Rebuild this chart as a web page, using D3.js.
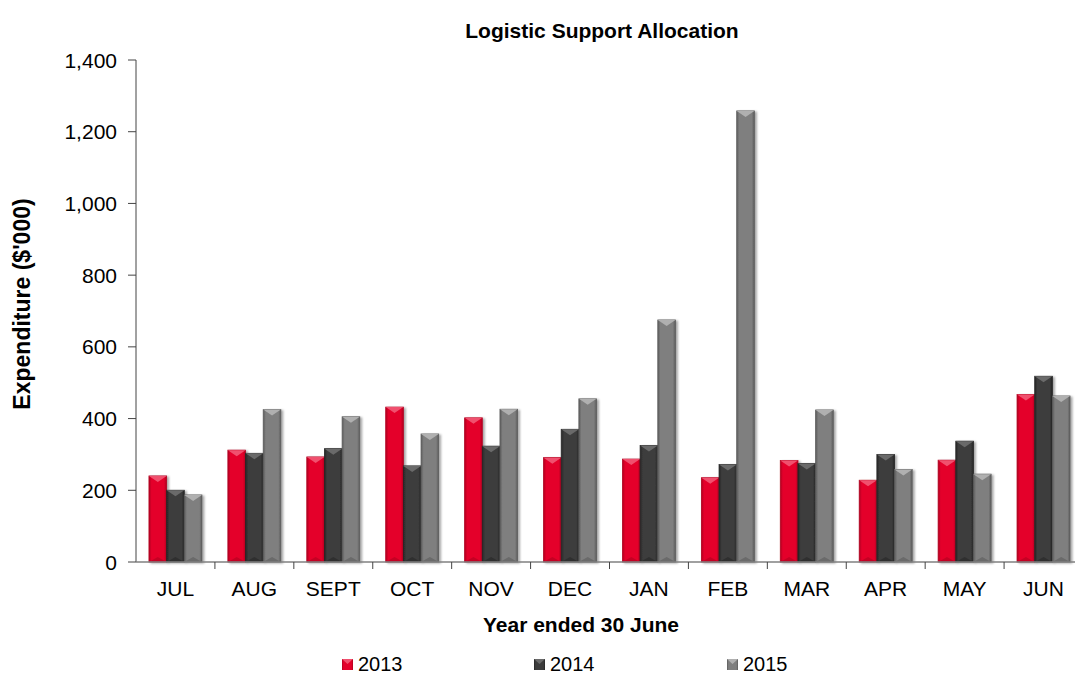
<!DOCTYPE html>
<html>
<head>
<meta charset="utf-8">
<script src="https://cdn.jsdelivr.net/npm/d3@7"></script>
<style>
  body { margin: 0; background: #fff; overflow: hidden; }
  svg { font-family: "Liberation Sans", Arial, sans-serif; display: block; }
</style>
</head>
<body>
<script>
const months = ["JUL", "AUG", "SEPT", "OCT", "NOV", "DEC", "JAN", "FEB", "MAR", "APR", "MAY", "JUN"];
const years = ["2013", "2014", "2015"];
const v2013 = [240, 312, 293, 432, 402, 291, 287, 235, 283, 228, 284, 467];
const v2014 = [200, 303, 316, 268, 323, 370, 325, 272, 275, 300, 337, 518];
const v2015 = [187, 425, 405, 357, 426, 455, 675, 1258, 424, 258, 245, 463];
const yTicks = [0, 200, 400, 600, 800, 1000, 1200, 1400];

const seriesVals = [v2013, v2014, v2015];
const baseCol = ["#e4002b", "#3c3c3c", "#7f7f7f"];
const topCol = ["#f0506e", "#6a6a6a", "#b0b0b0"];
const edgeCol = ["#b0001f", "#262626", "#5c5c5c"];

const width = 1075, height = 673;
const margin = { left: 136, right: -8, top: 60, bottom: 111 };

const svg = d3.select("body").append("svg")
    .attr("width", width)
    .attr("height", height);

const defs = svg.append("defs");
baseCol.forEach((c, i) => {
    var g = defs.append("linearGradient").attr("id", "grad" + i)
        .attr("x1", 0).attr("x2", 1).attr("y1", 0).attr("y2", 0);
    g.append("stop").attr("offset", "0%").attr("stop-color", edgeCol[i]);
    g.append("stop").attr("offset", "15%").attr("stop-color", c);
    g.append("stop").attr("offset", "85%").attr("stop-color", c);
    g.append("stop").attr("offset", "100%").attr("stop-color", edgeCol[i]);
});
var shadow = defs.append("filter").attr("id", "shadow")
    .attr("x", "-20%").attr("y", "-5%").attr("width", "160%").attr("height", "110%");
shadow.append("feDropShadow").attr("dx", 2).attr("dy", 1).attr("stdDeviation", 1.2)
    .attr("flood-color", "#000").attr("flood-opacity", 0.35);

const x = d3.scaleBand()
    .domain(months)
    .range([margin.left, width - margin.right]);

const xInner = d3.scaleBand()
    .domain(years)
    .range([0, 53])
    .padding(0);

const y = d3.scaleLinear()
    .domain([0, 1400])
    .range([height - margin.bottom, margin.top]);

// bars
const groups = svg.selectAll(".grp")
    .data(months)
    .enter().append("g")
    .attr("class", "grp")
    .attr("transform", d => "translate(" + (x(d) + (x.bandwidth() - 53) / 2) + ",0)");

years.forEach((yr, si) => {
    groups.each(function (m, mi) {
        var val = seriesVals[si][mi];
        var bx = xInner(yr), bw = xInner.bandwidth();
        var top = y(val), base = y(0);
        var g = d3.select(this);
        g.append("rect")
            .attr("x", bx).attr("y", top)
            .attr("width", bw).attr("height", base - top)
            .attr("fill", "url(#grad" + si + ")")
            .attr("stroke", edgeCol[si])
            .attr("stroke-width", 0.8)
            .attr("filter", "url(#shadow)");
        // bevel on top
        g.append("path")
            .attr("d", "M" + bx + "," + top + "L" + (bx + bw) + "," + top +
                "L" + (bx + bw / 2) + "," + (top + 6) + "Z")
            .attr("fill", topCol[si]);
        // bevel on bottom
        g.append("path")
            .attr("d", "M" + bx + "," + base + "L" + (bx + bw) + "," + base +
                "L" + (bx + bw / 2) + "," + (base - 5) + "Z")
            .attr("fill", edgeCol[si]).attr("opacity", 0.6);
    });
});

// y axis
svg.append("line")
    .attr("x1", margin.left).attr("x2", margin.left)
    .attr("y1", y(1400)).attr("y2", y(0))
    .attr("stroke", "#444").attr("stroke-width", 1);
svg.selectAll(".ytick")
    .data(yTicks)
    .enter().append("line")
    .attr("x1", margin.left - 8).attr("x2", margin.left)
    .attr("y1", d => y(d)).attr("y2", d => y(d))
    .attr("stroke", "#444");
svg.selectAll(".ylab")
    .data(yTicks)
    .enter().append("text")
    .attr("x", 117)
    .attr("y", d => y(d) + 7.5)
    .attr("text-anchor", "end")
    .attr("font-size", 21)
    .attr("fill", "#000")
    .text(d => d3.format(",")(d));

// x axis
svg.append("line")
    .attr("x1", margin.left).attr("x2", width)
    .attr("y1", y(0)).attr("y2", y(0))
    .attr("stroke", "#808080").attr("stroke-width", 1.5);
svg.selectAll(".xtick")
    .data(months.slice(1))
    .enter().append("line")
    .attr("x1", d => x(d)).attr("x2", d => x(d))
    .attr("y1", y(0)).attr("y2", y(0) + 7)
    .attr("stroke", "#444");
svg.selectAll(".xlab")
    .data(months)
    .enter().append("text")
    .attr("x", d => x(d) + x.bandwidth() / 2)
    .attr("y", 596)
    .attr("text-anchor", "middle")
    .attr("font-size", 21)
    .text(d => d);

// titles
svg.append("text")
    .attr("x", 602).attr("y", 38)
    .attr("text-anchor", "middle")
    .attr("font-size", 21).attr("font-weight", "bold")
    .text("Logistic Support Allocation");
svg.append("text")
    .attr("x", 581).attr("y", 632)
    .attr("text-anchor", "middle")
    .attr("font-size", 21).attr("font-weight", "bold")
    .text("Year ended 30 June");
svg.append("text")
    .attr("transform", "translate(30,304) rotate(-90)")
    .attr("text-anchor", "middle")
    .attr("font-size", 23).attr("font-weight", "bold")
    .text("Expenditure ($'000)");

// legend
const legX = [342, 534, 727];
const leg = svg.selectAll(".leg")
    .data(years)
    .enter().append("g")
    .attr("transform", (d, i) => "translate(" + legX[i] + ",659)");
leg.append("rect")
    .attr("width", 11).attr("height", 11)
    .attr("fill", (d, i) => "url(#grad" + i + ")");
leg.append("path")
    .attr("d", "M0,0L11,0L5.5,5Z")
    .attr("fill", (d, i) => topCol[i]);
leg.append("text")
    .attr("x", 16).attr("y", 11.5)
    .attr("font-size", 20)
    .text(d => d);
</script>
</body>
</html>
